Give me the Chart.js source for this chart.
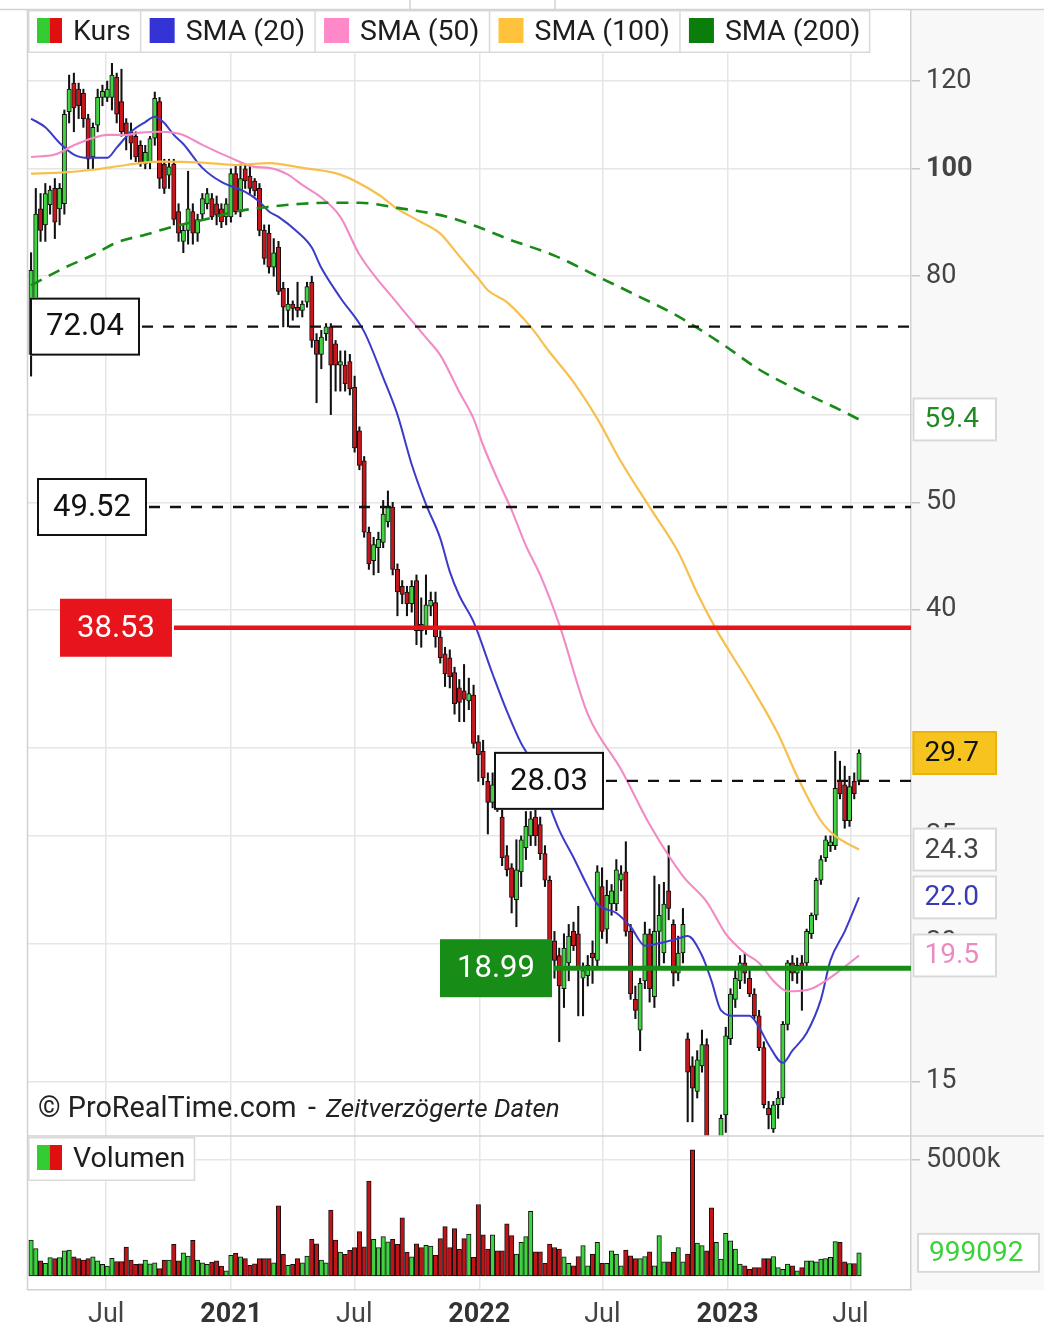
<!DOCTYPE html>
<html lang="de">
<head>
<meta charset="utf-8">
<title>Kurs – Wochenchart</title>
<script src="https://cdn.jsdelivr.net/npm/chart.js@4.4.1/dist/chart.umd.min.js"></script>
<style>
  html, body { margin: 0; padding: 0; background: #ffffff; }
  #wrap { position: relative; width: 1044px; height: 1332px; }
  canvas { display: block; }
</style>
</head>
<body>
<div id="wrap"><canvas id="chart" width="1044" height="1332"></canvas></div>
<script>
// ---- weekly price data (one candle per week, starting with the week of firstWeek) ----
const firstWeek = '2020-03-09';

const open = [
  68, 76, 92, 89, 92.8, 96, 92, 93, 112.6, 119.5,
  118, 117, 111, 102.5, 109.5, 116, 116, 116, 121, 115,
  110, 108, 107, 105, 101, 101.5, 106.6, 115, 101, 98.7,
  101, 91.5, 86, 88, 91.5, 87.5, 91, 93, 94, 93,
  92, 90.5, 90.5, 99, 91.5, 100, 98.5, 97.5, 96, 88,
  87.5, 81.5, 85, 78, 74.5, 75.5, 75, 74.5, 75.8, 79,
  70, 68, 71, 72, 69.5, 66.5, 66.5, 67, 63.5, 58,
  54.5, 47, 44.3, 45.5, 46, 48, 49.5, 43.5, 42, 41.5,
  40.5, 42.5, 38.8, 38.4, 40.3, 40.6, 37.8, 36.5, 36.2, 35.1,
  34, 33.8, 33.1, 33.5, 30.4, 29.8, 28, 26.8, 27.5, 26,
  24, 23.4, 21.9, 23.2, 24.4, 25, 26, 25.6, 24.1, 22.8,
  20.1, 19.5, 18.2, 19.2, 20.5, 20.4, 18.6, 18.7, 19.6, 19.3,
  22.5, 20.6, 21.7, 21.7, 22.8, 23.2, 20.5, 17.8, 16.7, 18.5,
  20.4, 17.9, 20.5, 19.6, 22.3, 20.8, 18.8, 19.6, 16.4, 15.5,
  14.7, 15.5, 16.2, 13, 12.5, 12.9, 14, 16.4, 17.8, 18.5,
  19.2, 18.6, 18, 17.2, 16.1, 14.2, 13.6, 14.3, 14.5, 16.9,
  19.2, 18.8, 19.2, 19.2, 20.4, 21.2, 22.8, 23.9, 24.5, 24.5,
  28, 27.8, 25.8, 28, 28
];
const high = [
  84, 96, 95, 97, 96.5, 98, 97, 113, 121.5, 122,
  119.5, 118, 112, 110, 118, 119, 120, 124.5, 122, 123,
  111, 110, 108, 106, 105, 107, 117.3, 116, 102, 102,
  102, 93, 89, 99.5, 93, 91, 95, 96, 95, 94.5,
  93, 94, 100, 100.5, 101, 101, 101, 98, 97, 89,
  89, 86.5, 86, 79, 78, 76, 79, 76, 79, 80,
  71, 71.5, 72.5, 72.5, 70, 68.5, 68.5, 68, 65, 58.5,
  55, 47.5, 46.5, 47, 50.2, 51.2, 50, 44, 42.5, 42,
  42.5, 43, 41, 43, 41.5, 41.5, 38.3, 37, 36.8, 35.5,
  34.6, 35.7, 34.7, 34.2, 30.8, 30.5, 28.5, 28.5, 28, 26.5,
  24.5, 23.6, 24.8, 25, 26.3, 26.3, 26.5, 26, 24.5, 23,
  20.5, 19.8, 20.4, 20.8, 20.9, 21.6, 19.2, 19.5, 20.1, 23.5,
  23.4, 22.8, 22.6, 23.8, 23.5, 24.7, 20.8, 18.3, 18.6, 20.9,
  20.6, 23, 22.6, 22.7, 24.5, 21, 20.3, 21.5, 16.6, 15.8,
  16, 16.7, 16.4, 13.2, 13.1, 14, 16.8, 18.2, 18.9, 19.5,
  19.6, 18.9, 18.2, 17.4, 16.3, 14.4, 14.4, 14.7, 17, 19.3,
  19.5, 19.4, 19.5, 20.6, 21.3, 22.9, 24, 25, 25, 29.8,
  29.2, 28.9, 28.3, 28.5, 29.9
];
const low = [
  65, 74, 86, 86, 91, 86.5, 89, 91, 110, 108,
  111, 109, 100, 100, 108, 114, 115, 113, 110, 107,
  104, 102, 101.5, 100.5, 100, 100, 105, 96, 95, 96,
  89, 86, 84, 85.5, 85.5, 86, 90, 92, 90, 89,
  88.5, 89, 89.5, 91, 90.5, 96, 95, 94.5, 87, 82,
  80.5, 80, 77, 72, 72, 73, 73.5, 73.5, 75, 69,
  61.5, 66, 70, 60, 63, 63, 63, 62.5, 55.5, 53.5,
  46.5, 43.5, 43, 43.2, 45.5, 47.5, 43, 39.5, 40.5, 39.5,
  39.8, 37.2, 37, 38, 39.5, 37, 35.8, 34.1, 34, 32.2,
  31.7, 31.7, 32.5, 30, 28, 27.8, 25.1, 26.5, 26.3, 23.5,
  23, 21.3, 20.7, 22.5, 23.8, 24.5, 24.5, 23.8, 22.5, 19.8,
  18.6, 16.3, 17.5, 18.5, 19.7, 17.2, 17.2, 18.3, 18.4, 19,
  20.2, 20, 21.2, 21.4, 22.3, 20.3, 17.8, 17.1, 16, 18.2,
  17.7, 17.5, 19, 19.2, 21, 18.3, 18.5, 19.2, 13.8, 13.8,
  14.5, 15.3, 12.8, 12.2, 12, 12.6, 13.5, 16.2, 17.5, 18.2,
  18.4, 17.9, 17.1, 16, 14.2, 13.6, 13.5, 13.9, 14.3, 16.7,
  18.5, 18.4, 17.4, 19, 20.2, 21, 22.6, 23.7, 24.2, 24.3,
  27, 25.4, 25.5, 27, 27.8
];
const close = [
  81, 91, 88, 95, 95.7, 89.5, 96, 112, 118, 113.5,
  114, 111, 102, 109, 116, 117.5, 118, 121.5, 112, 108,
  107.5, 105.5, 102.5, 101, 103.5, 106.5, 115.8, 98, 96, 100.4,
  90, 87.5, 88, 92, 87.5, 90, 94, 95, 90.5, 90.8,
  89.6, 93, 99, 91.5, 98, 97.5, 96, 95.5, 88, 83,
  81.5, 84, 77.5, 75, 75.5, 74.8, 74.5, 75.5, 78.3, 70,
  68, 70.5, 72, 66.5, 66.5, 67, 64, 63.3, 56, 54,
  47, 44, 45.8, 46.3, 48.8, 49.6, 43.5, 41.5, 41.3, 40.5,
  42, 38.3, 38.3, 40.4, 40.8, 37.8, 36.2, 35, 34.8, 32.9,
  33, 33.2, 33.6, 30.3, 29.6, 28.2, 26.8, 27.8, 26.5, 23.9,
  23.3, 22, 23.3, 24.8, 25.5, 25.9, 25, 24.1, 22.8, 20.1,
  19.3, 18.3, 19.8, 20.3, 19.9, 19, 18.9, 19.1, 19.4, 23.2,
  20.5, 22.1, 22.3, 23.3, 23.1, 20.5, 18, 17.4, 18.4, 20.4,
  18.2, 20.5, 21.2, 21.7, 21.5, 18.8, 19.6, 20.8, 15.3, 14.8,
  15.7, 16.2, 13, 12.5, 12.9, 13.9, 16.5, 18, 18.6, 19.2,
  18.8, 18, 17.2, 16.1, 14.3, 14, 14.3, 14.5, 16.9, 19.2,
  18.8, 19.1, 19, 20.5, 21.2, 22.8, 23.8, 24.8, 24.7, 27.6,
  27.3, 25.8, 27.7, 27.3, 29.7
];
const volume = [
  1550000, 1180000, 650000, 550000, 790000, 750000, 790000, 1080000, 1120000, 830000,
  750000, 690000, 750000, 830000, 650000, 500000, 430000, 760000, 620000, 620000,
  1250000, 690000, 500000, 530000, 690000, 530000, 570000, 320000, 690000, 690000,
  1360000, 650000, 1000000, 860000, 1540000, 690000, 570000, 500000, 600000, 650000,
  430000, 220000, 890000, 980000, 830000, 750000, 460000, 530000, 750000, 750000,
  750000, 570000, 3020000, 930000, 460000, 500000, 750000, 570000, 860000, 1580000,
  1390000, 690000, 570000, 2840000, 1550000, 1030000, 930000, 1110000, 1220000, 1910000,
  1260000, 4090000, 1580000, 1220000, 1700000, 1470000, 1580000, 1360000, 2510000, 1030000,
  830000, 1390000, 1220000, 1320000, 1290000, 890000, 1610000, 2130000, 1220000, 2040000,
  1150000, 1610000, 1810000, 800000, 3080000, 1770000, 1160000, 1770000, 1090000, 1090000,
  2250000, 1740000, 940000, 1450000, 1700000, 2790000, 1040000, 1040000, 550000, 1380000,
  1230000, 1160000, 830000, 550000, 440000, 840000, 1310000, 440000, 940000, 1450000,
  550000, 550000, 1090000, 940000, 440000, 1120000, 870000, 750000, 750000, 840000,
  1040000, 440000, 1740000, 610000, 610000, 1020000, 1230000, 610000, 940000, 5440000,
  1420000, 1310000, 1090000, 2940000, 1450000, 730000, 1840000, 1520000, 1160000, 510000,
  440000, 290000, 360000, 360000, 750000, 750000, 840000, 360000, 290000, 510000,
  440000, 220000, 360000, 650000, 650000, 610000, 730000, 750000, 800000, 1480000,
  1450000, 610000, 540000, 540000, 999092
];

// ---- moving averages: [candle index, value] ----
const sma20 = [
  [0, 111], [3, 109], [6, 105.5], [9, 103], [12, 102.3], [16, 102.3], [18, 104.5], [21, 108],
  [24, 110.2], [26, 111.4], [28, 110], [30, 107.3], [32, 105.3], [36, 100.2], [40, 97.3],
  [45, 95.3], [48, 93.4], [50, 91.5], [52, 90.5], [56, 87.7], [59, 84.9], [61, 81.4],
  [65, 76.5], [70, 71.3], [74, 64.8], [77, 60], [80, 54.1], [83, 49.8], [86, 46.4],
  [88, 43.3], [90, 41.2], [93, 39], [97, 35], [100, 32.4], [103, 30.3], [105, 29.3],
  [108, 27.3], [111, 25.3], [114, 23.9], [117, 22.5], [119, 21.7], [123, 21.3], [126, 20.7],
  [129, 19.9], [132, 20], [136, 20.2], [138, 20.3], [141, 19.5], [143, 18.5], [145, 17.4],
  [148, 17.2], [151, 17.2], [153, 16.8], [155, 16.2], [158, 15.6], [160, 16], [163, 16.6],
  [166, 17.8], [168, 19.3], [171, 20.5], [174, 22.0]
];
const sma50 = [
  [0, 102.5], [5, 103], [9, 105], [13, 106.6], [16, 107.3], [20, 107.3], [23, 107.8], [27, 108],
  [30, 107.8], [32, 107.3], [36, 105.1], [42, 102.3], [47, 100.4], [50, 100.2], [54, 98.8],
  [57, 96.7], [61, 94.2], [65, 90.5], [69, 83.7], [77, 75.6], [83, 70.4], [86, 67.9],
  [90, 62.9], [93, 59.5], [95, 56.3], [98, 52.5], [101, 49.2], [104, 45.7], [107, 43],
  [111, 38.8], [117, 32.2], [124, 28.7], [130, 25.6], [137, 23], [142, 21.8], [146, 20.4],
  [150, 19.6], [153, 19.2], [156, 18.5], [159, 18.1], [164, 18.2], [167, 18.5], [170, 18.9],
  [174, 19.5]
];
const sma100 = [
  [0, 99], [6, 99.2], [13, 99.8], [20, 100.8], [27, 101.5], [36, 101.3], [43, 100.8],
  [50, 101.2], [57, 100.2], [65, 98.8], [73, 94.8], [77, 92], [82, 89.5], [86, 87.4],
  [90, 83.4], [94, 79.6], [96, 77.7], [100, 75.8], [105, 72], [109, 68.3], [114, 64.2],
  [119, 59.5], [124, 54.4], [130, 49.5], [136, 45.1], [140, 41.4], [144, 38.4], [151, 34.3],
  [157, 30.9], [161, 28.3], [166, 25.8], [169, 25], [174, 24.3]
];
const sma200 = [
  [0, 78.5], [7, 81.4], [13, 83.6], [18, 85.8], [24, 87.2], [30, 88.7], [36, 89.9],
  [43, 91.5], [50, 92.4], [57, 93], [63, 93.2], [69, 93.2], [77, 92.2], [87, 90.6],
  [94, 88.6], [100, 86.5], [110, 83.5], [120, 79.6], [128, 76.6], [135, 74], [145, 69.6],
  [153, 65.9], [161, 63.2], [170, 60.6], [174, 59.4]
];

// ---- horizontal price levels ----
const levels = [72.04, 49.52, 38.53, 28.03, 18.99];

// ---- axes ----
const priceTicks = [15, 20, 25, 30, 40, 50, 60, 80, 100, 120];
const volumeTicks = [5000000];
const timeTickDates = ['2020-07-01', '2021-01-01', '2021-07-01', '2022-01-01', '2022-07-01', '2023-01-01', '2023-07-01'];
const timeTickLabels = ['Jul', '2021', 'Jul', '2022', 'Jul', '2023', 'Jul'];
const legendLabels = ['Kurs', 'SMA (20)', 'SMA (50)', 'SMA (100)', 'SMA (200)'];

// ------------------------------------------------------------------
const WEEK = 7 * 864e5;
const T0 = Date.parse(firstWeek + 'T00:00:00Z');
const weekOf = d => (Date.parse(d + 'T00:00:00Z') - T0) / WEEK;
const tickWeeks = timeTickDates.map(weekOf);
const candleX = i => i + 0.5;

const COL = {
  up: '#42d342', down: '#c8161c', volUp: '#3fd43f', volDown: '#c01418',
  sma20: '#3b3bc9', sma50: '#f08bc6', sma100: '#f7c04e', sma200: '#178a17',
  grid: '#e6e6e6', axis: '#d2d2d2', label: '#444444'
};
const FONT = 'Roboto, "Noto Sans", sans-serif';
Chart.defaults.font.family = FONT;
Chart.defaults.color = COL.label;

const PRICE_PANE = 1126, VOL_PANE = 154;

const up = close.map((c, i) => c >= open[i]);
const wickData = high.map((h, i) => ({ x: candleX(i), y: [low[i], h] }));
const bodyData = open.map((o, i) => ({ x: candleX(i), y: [o, close[i]] }));
const volData = volume.map((v, i) => ({ x: candleX(i), y: v }));
const smaPts = arr => arr.map(([i, v]) => ({ x: candleX(i), y: v }));
const lastOf = arr => arr[arr.length - 1][1];

function lineSet(label, arr, color, width, dash) {
  return {
    type: 'line', label, data: smaPts(arr), yAxisID: 'y', xAxisID: 'x',
    borderColor: color, borderWidth: width, borderDash: dash || [],
    pointRadius: 0, fill: false, cubicInterpolationMode: 'monotone',
    order: 0, clip: 0
  };
}

// keep axis boxes at a fixed size so both panes share one plot width
const fixWidth = s => { s.width = 133; s.paddingTop = 0; s.paddingBottom = 0; };

// ---- overlay drawing: panes, level lines, legends, value tags ----
const levelLook = [
  { x: 30, w: 110, kind: 'dash' },
  { x: 37, w: 110, kind: 'dash' },
  { x: 60, w: 112, kind: 'red' },
  { x: 494, w: 110, kind: 'dash' },
  { x: 440, w: 112, kind: 'green' }
];
const LOOK = {
  dash:  { line: '#111111', width: 2.4, dash: [11, 10], fill: '#ffffff', border: '#111111', text: '#111111' },
  red:   { line: '#e8141c', width: 4.5, dash: [], fill: '#e8141c', border: null, text: '#ffffff' },
  green: { line: '#178c17', width: 5, dash: [], fill: '#178c17', border: null, text: '#ffffff' }
};

function drawLegend(ctx, x0, y0, h, items) {
  ctx.save();
  ctx.font = '28.5px ' + FONT;
  let x = x0;
  const parts = items.map(it => {
    const w = ctx.measureText(it.label).width;
    const p = { x, w, it };
    x += 9 + 25 + 11 + w + 10;
    return p;
  });
  ctx.fillStyle = '#ffffff';
  ctx.fillRect(x0, y0, x - x0, h);
  ctx.strokeStyle = '#dadada';
  ctx.lineWidth = 1.5;
  ctx.strokeRect(x0 + 0.75, y0 + 0.75, x - x0 - 1.5, h - 1.5);
  parts.forEach((p, k) => {
    const ix = p.x + 9, iy = y0 + 8;
    if (p.it.colors.length === 2) {
      ctx.fillStyle = p.it.colors[0]; ctx.fillRect(ix, iy, 12.5, 25);
      ctx.fillStyle = p.it.colors[1]; ctx.fillRect(ix + 12.5, iy, 12.5, 25);
    } else {
      ctx.fillStyle = p.it.colors[0]; ctx.fillRect(ix, iy, 25, 25);
    }
    ctx.fillStyle = '#1e1e1e';
    ctx.textAlign = 'left';
    ctx.textBaseline = 'middle';
    ctx.fillText(p.it.label, ix + 36, y0 + h / 2 + 1);
    if (k < parts.length - 1) {
      const sx = ix + 36 + p.w + 10;
      ctx.beginPath();
      ctx.moveTo(sx, y0); ctx.lineTo(sx, y0 + h);
      ctx.stroke();
    }
  });
  ctx.restore();
}

function drawTag(ctx, x, yc, w, h, text, look) {
  ctx.save();
  ctx.fillStyle = look.fill;
  ctx.fillRect(x, yc - h / 2, w, h);
  ctx.strokeStyle = look.border;
  ctx.lineWidth = 2;
  ctx.strokeRect(x + 1, yc - h / 2 + 1, w - 2, h - 2);
  ctx.fillStyle = look.text;
  ctx.font = '28px ' + FONT;
  ctx.textAlign = 'left';
  ctx.textBaseline = 'middle';
  ctx.fillText(text, x + 12, yc + 1);
  ctx.restore();
}

const overlay = {
  id: 'overlay',
  beforeDraw(chart) {
    const { ctx, chartArea: a } = chart;
    ctx.save();
    ctx.fillStyle = '#ffffff';
    ctx.fillRect(0, 0, chart.width, chart.height);
    ctx.fillStyle = '#f8f8f8';
    ctx.fillRect(a.right, a.top - 1, chart.width - a.right, a.bottom - a.top + 1);
    ctx.restore();
  },
  afterDatasetsDraw(chart) {
    const { ctx, chartArea: a } = chart;
    const ys = chart.scales.y;
    ctx.save();
    levels.forEach((v, k) => {
      const lk = levelLook[k], st = LOOK[lk.kind];
      const y = ys.getPixelForValue(v);
      ctx.beginPath();
      ctx.setLineDash(st.dash);
      ctx.lineWidth = st.width;
      ctx.strokeStyle = st.line;
      ctx.moveTo(lk.x + lk.w + 2, y);
      ctx.lineTo(a.right, y);
      ctx.stroke();
      ctx.setLineDash([]);
      ctx.fillStyle = st.fill;
      ctx.fillRect(lk.x, y - 29, lk.w, 58);
      if (st.border) {
        ctx.lineWidth = 2;
        ctx.strokeStyle = st.border;
        ctx.strokeRect(lk.x + 1, y - 28, lk.w - 2, 56);
      }
      ctx.fillStyle = st.text;
      ctx.font = '31px ' + FONT;
      ctx.textAlign = 'center';
      ctx.textBaseline = 'middle';
      ctx.fillText(v.toFixed(2), lk.x + lk.w / 2, y + 1);
    });

    // copyright line
    ctx.fillStyle = '#222222';
    ctx.textAlign = 'left';
    ctx.textBaseline = 'alphabetic';
    ctx.font = '28.8px ' + FONT;
    ctx.fillText('© ProRealTime.com', 38, 1117);
    ctx.fillText('-', 308, 1117);
    ctx.font = 'italic 26px ' + FONT;
    ctx.fillText('Zeitverzögerte Daten', 326, 1117);
    ctx.restore();

    drawLegend(ctx, a.left, a.top, 43, [
      { label: legendLabels[0], colors: ['#33cc33', '#e01010'] },
      { label: legendLabels[1], colors: ['#3333d6'] },
      { label: legendLabels[2], colors: ['#ff88c8'] },
      { label: legendLabels[3], colors: ['#ffc23c'] },
      { label: legendLabels[4], colors: ['#0b7d0b'] }
    ]);
  },
  afterDraw(chart) {
    const { ctx, chartArea: a } = chart;
    const ys = chart.scales.y, yv = chart.scales.yVol;
    ctx.save();
    ctx.strokeStyle = COL.axis;
    ctx.lineWidth = 1.5;
    ctx.beginPath();
    ctx.moveTo(0, a.top - 0.5); ctx.lineTo(chart.width, a.top - 0.5);           // top frame
    ctx.moveTo(a.left - 0.5, a.top); ctx.lineTo(a.left - 0.5, a.bottom);       // left frame
    ctx.moveTo(a.left, ys.bottom); ctx.lineTo(chart.width, ys.bottom);         // pane separator
    ctx.moveTo(410, 0); ctx.lineTo(410, a.top);
    ctx.moveTo(555, 0); ctx.lineTo(555, a.top);
    ctx.stroke();
    ctx.restore();

    const tx = a.right + 1.5, tw = 84.5, th = 44;
    const plain = (color) => ({ fill: '#ffffff', border: '#d9d9d9', text: color });
    drawTag(ctx, tx, ys.getPixelForValue(lastOf(sma200)), tw, th, lastOf(sma200).toFixed(1), plain('#1f8a1f'));
    drawTag(ctx, tx, ys.getPixelForValue(close[close.length - 1]), tw, th, close[close.length - 1].toFixed(1),
      { fill: '#f7c31e', border: '#e8b40c', text: '#111111' });
    drawTag(ctx, tx, ys.getPixelForValue(lastOf(sma100)), tw, th, lastOf(sma100).toFixed(1), plain('#444444'));
    drawTag(ctx, tx, ys.getPixelForValue(lastOf(sma20)), tw, th, lastOf(sma20).toFixed(1), plain('#3a3ab4'));
    drawTag(ctx, tx, ys.getPixelForValue(lastOf(sma50)), tw, th, lastOf(sma50).toFixed(1), plain('#ea8cc2'));
    const lastVol = volume[volume.length - 1];
    drawTag(ctx, a.right + 6, yv.getPixelForValue(lastVol), 123, 40, String(lastVol), plain('#3ad13a'));

    drawLegend(ctx, a.left, ys.bottom + 1, 44, [
      { label: 'Volumen', colors: ['#33cc33', '#e01010'] }
    ]);
  }
};

const ctx = document.getElementById('chart').getContext('2d');
new Chart(ctx, {
  type: 'bar',
  data: {
    datasets: [
      {
        label: 'Docht', data: wickData, xAxisID: 'x', yAxisID: 'y',
        backgroundColor: '#111111', borderWidth: 0, barThickness: 1.4,
        grouped: false, order: 2, clip: 0
      },
      {
        label: 'Kurs', data: bodyData, xAxisID: 'x', yAxisID: 'y',
        backgroundColor: up.map(u => u ? COL.up : COL.down),
        borderColor: '#111111', borderWidth: 1, borderSkipped: false,
        barThickness: 4.4, minBarLength: 2, grouped: false, order: 1, clip: 0
      },
      {
        label: 'Volumen', data: volData, xAxisID: 'x', yAxisID: 'yVol',
        backgroundColor: up.map(u => u ? COL.volUp : COL.volDown),
        borderColor: '#111111', borderWidth: 1, borderSkipped: false,
        barThickness: 4.5, grouped: false, order: 1, clip: 0
      },
      lineSet('SMA (200)', sma200, COL.sma200, 2.6, [12, 8]),
      lineSet('SMA (100)', sma100, COL.sma100, 2.2),
      lineSet('SMA (50)', sma50, COL.sma50, 2.1),
      lineSet('SMA (20)', sma20, COL.sma20, 2)
    ]
  },
  options: {
    responsive: false,
    animation: false,
    events: [],
    layout: { padding: { left: 28, top: 10, right: 0, bottom: 0 } },
    plugins: { legend: { display: false }, tooltip: { enabled: false } },
    scales: {
      x: {
        type: 'linear', position: 'bottom', offset: false,
        min: weekOf('2020-03-08'), max: weekOf('2023-09-28'),
        afterBuildTicks: s => { s.ticks = tickWeeks.map(v => ({ value: v })); },
        afterFit: s => { s.height = 42; s.paddingLeft = 0; s.paddingRight = 0; },
        grid: { color: COL.grid, lineWidth: 1.5, drawTicks: false, offset: false },
        border: { display: true, color: COL.axis, width: 1.5 },
        ticks: {
          autoSkip: false, maxRotation: 0, padding: 9,
          callback: (v, i) => timeTickLabels[i],
          color: c => /^\d{4}$/.test(timeTickLabels[c.index]) ? '#333333' : '#444444',
          font: c => ({ family: FONT, size: 27, weight: /^\d{4}$/.test(timeTickLabels[c.index]) ? 'bold' : 'normal' })
        }
      },
      y: {
        type: 'logarithmic', position: 'right', stack: 'panes', stackWeight: PRICE_PANE,
        min: 13.40, max: 139.1,
        afterBuildTicks: s => { s.ticks = priceTicks.map(v => ({ value: v })); },
        afterFit: fixWidth,
        grid: { color: COL.grid, lineWidth: 1.5, tickLength: 9, tickColor: '#c8c8c8', tickWidth: 1.5 },
        border: { display: true, color: COL.axis, width: 1.5 },
        ticks: {
          autoSkip: false, padding: 6, color: '#444444',
          callback: v => String(v),
          font: c => ({ family: FONT, size: 27, weight: c.tick && c.tick.value === 100 ? 'bold' : 'normal' })
        }
      },
      yVol: {
        type: 'linear', position: 'right', stack: 'panes', stackWeight: VOL_PANE,
        min: -603000, max: 6034000,
        afterBuildTicks: s => { s.ticks = volumeTicks.map(v => ({ value: v })); },
        afterFit: fixWidth,
        grid: { color: COL.grid, lineWidth: 1.5, tickLength: 9, tickColor: '#c8c8c8', tickWidth: 1.5 },
        border: { display: true, color: COL.axis, width: 1.5 },
        ticks: {
          autoSkip: false, padding: 6, color: '#444444',
          callback: v => (v / 1000) + 'k',
          font: { family: FONT, size: 27 }
        }
      }
    }
  },
  plugins: [overlay]
});
</script>
</body>
</html>
